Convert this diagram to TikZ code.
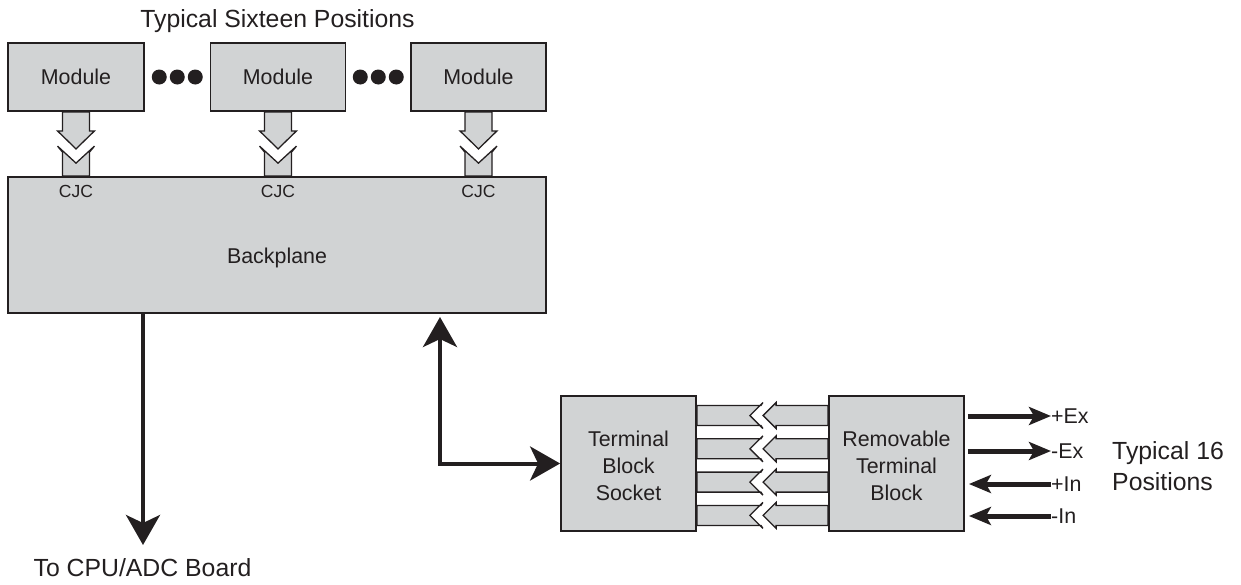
\documentclass[tikz,border=0pt]{standalone}
\usepackage{fontspec}
\setmainfont{Liberation Sans}
\usetikzlibrary{arrows.meta,calc,backgrounds}
\definecolor{panel}{RGB}{209,211,212}
\definecolor{ink}{RGB}{35,31,32}
\newcommand{\sizeBox}{\fontsize{21.4}{26.8}\selectfont}
\newcommand{\sizeBig}{\fontsize{24.8}{31}\selectfont}
\newcommand{\sizeCJC}{\fontsize{17.5}{20}\selectfont}
\tikzset{
  BigHead/.tip={Stealth[length=30pt,width=34pt,inset=8pt]},
  SmallHead/.tip={Stealth[length=22pt,width=18pt,inset=5pt]},
}
\begin{document}
\begin{tikzpicture}[x=1pt,y=-1pt,
  box/.style={draw=ink, fill=panel, line width=1.8pt, inner sep=0pt,
    text=ink, align=center, font=\sizeBox},
  piece/.style={draw=ink, fill=panel, line width=1.3pt, line join=miter},
  lbl/.style={inner sep=0pt, text=ink},
  bigline/.style={draw=ink, line width=4pt},
  sig/.style={draw=ink, line width=5pt, -SmallHead},
]
\useasboundingbox (0,0) rectangle (1241,584);

% heading over the module row
\node[lbl, font=\sizeBig, anchor=base] (title) at (277.5,27) {Typical Sixteen Positions};

% module row
\node[box, minimum width=136pt, minimum height=68pt] (m1) at (76,77) {Module};
\node[box, minimum width=135pt, minimum height=68pt] (m2) at (278,77) {Module};
\node[box, minimum width=135pt, minimum height=68pt] (m3) at (478.5,77) {Module};

% ellipsis dots between modules
\foreach \a/\b in {m1/m2, m2/m3} {
  \foreach \d in {-18,0,18}
    \fill[ink] ($(\a.east)!0.5!(\b.west)+(\d,0)$) circle (7.5pt);
}

% backplane
\node[box, minimum width=538pt, minimum height=136pt] (bp) at (277,245) {};
\node[lbl, font=\sizeBox, anchor=base] (bptext) at (277,263) {Backplane};
\coordinate (cjcrow) at (0,197);
\foreach \m in {m1,m2,m3}
  \node[lbl, font=\sizeCJC, anchor=base] (cjc-\m) at (\m.south |- cjcrow) {CJC};

% terminal blocks
\node[box, minimum width=135pt, minimum height=135pt] (sock) at (628.5,463.5) {};
\node[box, minimum width=135pt, minimum height=135pt] (rtb) at (896.5,463.5) {};
\node[lbl, font=\sizeBox, align=center] (socktext) at ($(sock.center)+(0,2.5)$) {Terminal\\Block\\Socket};
\node[lbl, font=\sizeBox, align=center] (rtbtext) at ($(rtb.center)+(0,2.5)$) {Removable\\Terminal\\Block};

% plug-in connectors behind the boxes
\begin{scope}[on background layer]
  \foreach \m in {m1,m2,m3} {
    \draw[piece] (\m.south) ++(-13.5,0) -- ++(0,19) -- ++(-5,0) -- ++(18.5,18)
      -- ++(18.5,-18) -- ++(-5,0) -- ++(0,-19) -- cycle;
    \draw[piece] (\m.south |- bp.north) ++(-13.5,0) -- ++(0,-24) -- ++(-5,-6)
      -- ++(18.5,17) -- ++(18.5,-17) -- ++(-5,6) -- ++(0,24) -- cycle;
  }
  \foreach \yc in {415.5,448.8,482.1,515.4} {
    \coordinate (ry) at (0,\yc);
    \draw[piece] (rtb.west |- ry) ++(0,-10) -- ++(-52,0) -- ++(0,-3) -- ++(-13,13)
      -- ++(13,13) -- ++(0,-3) -- ++(52,0) -- cycle;
    \draw[piece] (sock.east |- ry) ++(0,-10) -- ++(64,0) -- ++(2,-3) -- ++(-13,13)
      -- ++(13,13) -- ++(-2,-3) -- ++(-64,0) -- cycle;
  }
\end{scope}

% backplane links
\coordinate (bpin) at (440,317);
\draw[bigline, BigHead-BigHead] (bpin) |- (sock.west);
\coordinate (cputip) at (143,545);
\draw[bigline, -BigHead] (bp.south -| cputip) -- (cputip);
\node[lbl, font=\sizeBig, anchor=base] (cpu) at (142.5,576) {To CPU/ADC Board};

% field wiring
\node[lbl, font=\sizeBox, anchor=west] (pex) at (1051,416) {+Ex};
\node[lbl, font=\sizeBox, anchor=west] (mex) at (1051,451) {-Ex};
\node[lbl, font=\sizeBox, anchor=west] (pin) at (1051,484) {+In};
\node[lbl, font=\sizeBox, anchor=west] (min) at (1051,516) {-In};
\draw[sig] ($(rtb.east |- pex.west)+(3,0)$) -- (pex.west);
\draw[sig] ($(rtb.east |- mex.west)+(3,0)$) -- (mex.west);
\draw[sig] (pin.west) -- ($(rtb.east |- pin.west)+(4,0)$);
\draw[sig] (min.west) -- ($(rtb.east |- min.west)+(4,0)$);
\node[lbl, font=\sizeBig, align=left, anchor=west] (pos) at (1112,466.5) {Typical 16\\Positions};
\end{tikzpicture}
\end{document}
